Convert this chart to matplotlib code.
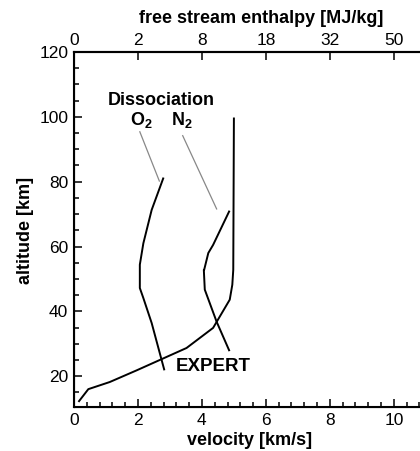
import matplotlib
matplotlib.use("Agg")
import matplotlib.pyplot as plt
from matplotlib.ticker import MultipleLocator

plt.rcParams['font.family'] = 'Liberation Sans'
plt.rcParams['font.size'] = 12
plt.rcParams['mathtext.fontset'] = 'custom'
plt.rcParams['mathtext.bf'] = 'Liberation Sans:bold'
plt.rcParams['mathtext.rm'] = 'Liberation Sans:bold'
plt.rcParams['mathtext.default'] = 'bf'

# EXPERT trajectory (velocity km/s, altitude km)
expert_v = [0.16, 0.45, 1.12, 1.96, 3.52, 4.35, 4.87, 4.95, 4.98, 5.0]
expert_h = [12.3, 16.0, 18.2, 21.8, 28.7, 34.9, 43.6, 48.2, 52.8, 99.5]

# O2 dissociation boundary
o2_v = [2.82, 2.43, 2.17, 2.06, 2.06, 2.06, 2.17, 2.43, 2.79]
o2_h = [22.1, 36.4, 44.1, 47.2, 52.8, 54.4, 61.0, 71.3, 81.0]

# N2 dissociation boundary
n2_v = [4.85, 4.46, 4.09, 4.06, 4.07, 4.2, 4.35, 4.85]
n2_h = [28.0, 36.8, 46.7, 52.8, 52.8, 58.0, 60.5, 70.8]

vel_ticks = [0, 2, 4, 6, 8, 10]
enthalpy_labels = ['0', '2', '8', '18', '32', '50']
alt_ticks = [20, 40, 60, 80, 100, 120]

fig = plt.figure(figsize=(4.2, 4.51), dpi=100)
ax = fig.add_axes([0.176, 0.0976, 0.838, 0.787])

ax.plot(expert_v, expert_h, color='black', lw=1.4)
ax.plot(o2_v, o2_h, color='black', lw=1.4)
ax.plot(n2_v, n2_h, color='black', lw=1.4)

# leader lines
ax.plot([2.06, 2.67], [95.4, 80.2], color='#888888', lw=0.9)
ax.plot([3.4, 4.46], [94.2, 71.6], color='#888888', lw=0.9)

ax.text(2.72, 105.1, 'Dissociation', ha='center', va='center', fontweight='bold', fontsize=13)
ax.text(2.11, 99, r'O$_2$', ha='center', va='center', fontweight='bold', fontsize=13)
ax.text(3.36, 99, r'N$_2$', ha='center', va='center', fontweight='bold', fontsize=13)
ax.text(4.36, 23, 'EXPERT', ha='center', va='center', fontweight='bold', fontsize=13.5)

ax.set_xlim(0, 11)
ax.set_ylim(10.5, 120)
ax.set_xticks(vel_ticks)
ax.set_yticks(alt_ticks)
ax.xaxis.set_minor_locator(MultipleLocator(0.4))
ax.yaxis.set_minor_locator(MultipleLocator(5))
ax.tick_params(which='both', direction='in', width=1.1, top=False, right=False, labelsize=12.5)
ax.tick_params(which='major', length=6, pad=4)
ax.tick_params(which='minor', length=3.5)
for s in ax.spines.values():
    s.set_linewidth(1.5)

fig.text(0.06, 0.49, 'altitude [km]', rotation=90, ha='center', va='center', fontweight='bold', fontsize=13)
fig.text(0.595, 0.024, 'velocity [km/s]', ha='center', va='center', fontweight='bold', fontsize=13)

top = ax.twiny()
top.set_xlim(ax.get_xlim())
top.set_xticks(vel_ticks)
top.set_xticklabels(enthalpy_labels)
top.tick_params(direction='in', length=6, width=1.1, labelsize=12.5, pad=3)
top.spines['top'].set_linewidth(1.5)
fig.text(0.621, 0.96, 'free stream enthalpy [MJ/kg]', ha='center', va='center', fontweight='bold', fontsize=13)

plt.savefig('out.png', dpi=100)
plt.close('all')
